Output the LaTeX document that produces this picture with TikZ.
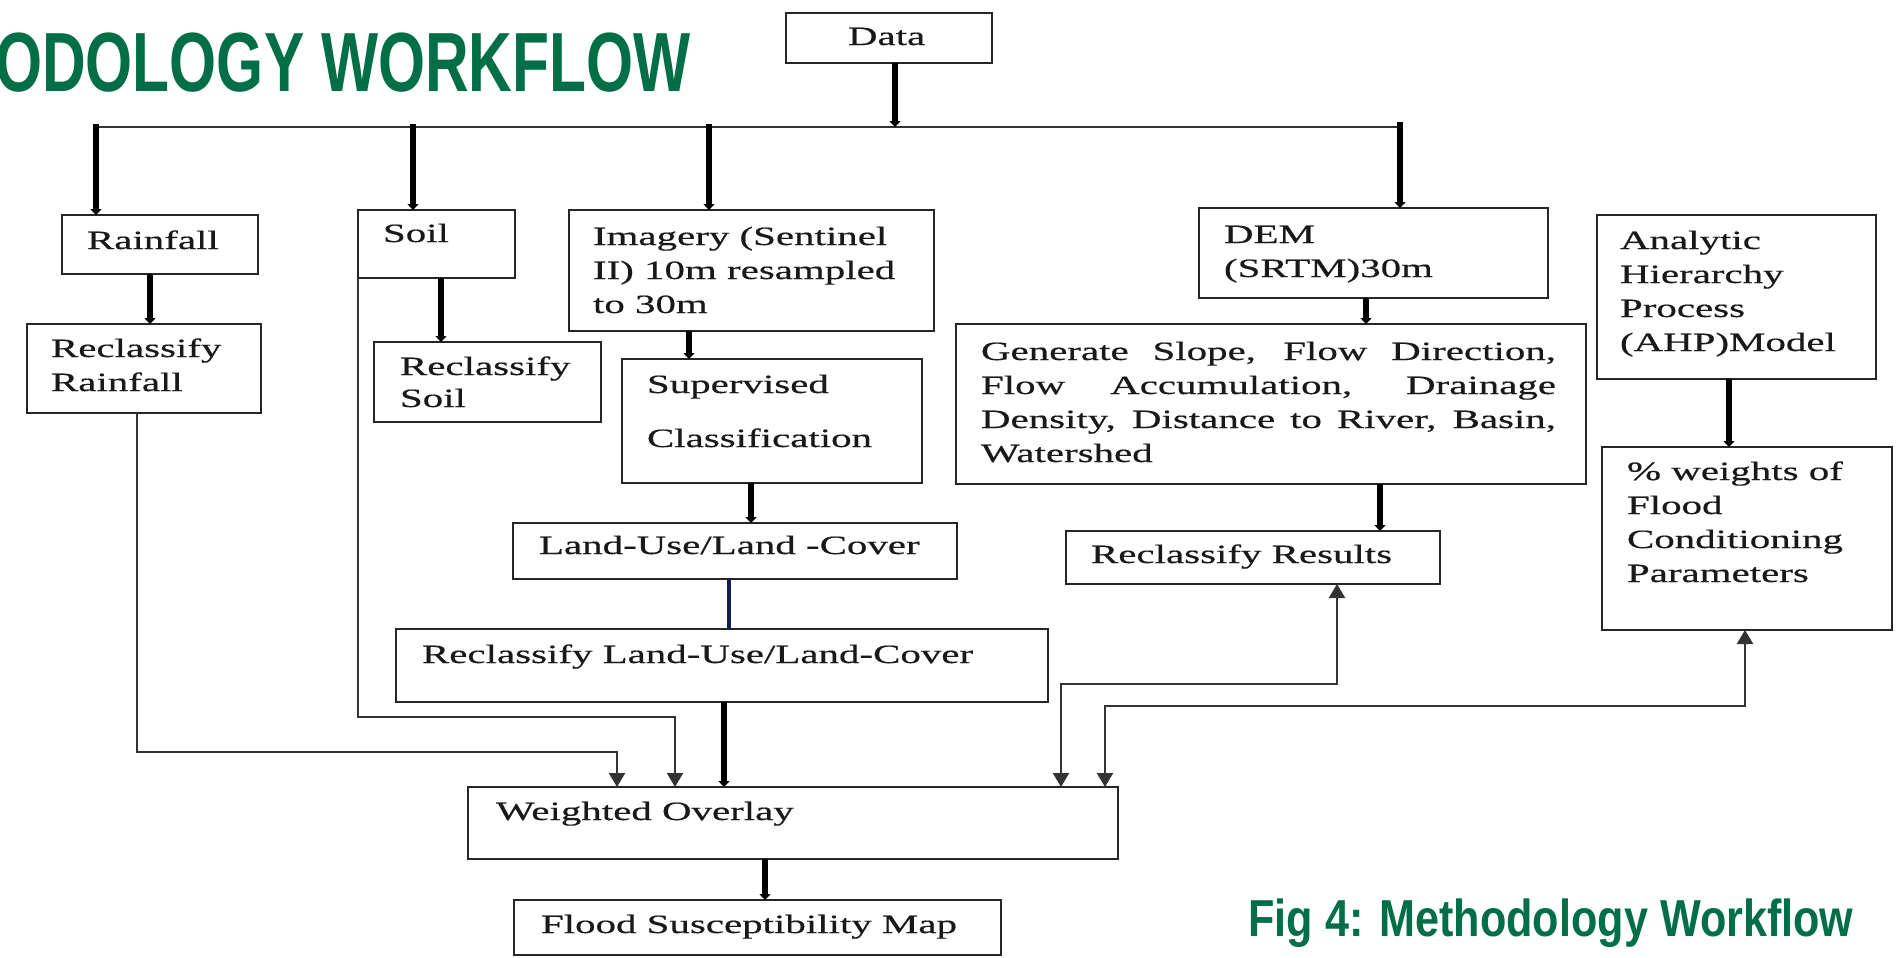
\documentclass[tikz,border=0pt]{standalone}
\usepackage{fontspec}
\setmainfont{Liberation Serif}
\newfontfamily\bodyfont[FakeStretch=1.55,FakeBold=0.5]{Liberation Serif}
\newfontfamily\titlefont[FakeStretch=0.72]{Liberation Sans Bold}
\newfontfamily\capfont[FakeStretch=0.83]{Liberation Sans Bold}
\usetikzlibrary{arrows.meta,fit}
\definecolor{figgreen}{RGB}{0,110,70}
\definecolor{navyline}{RGB}{20,30,80}
\tikzset{
  box/.style={draw=black!85, line width=1.3pt, inner sep=0pt, outer sep=0pt},
  txt/.style={inner sep=0pt, outer sep=0pt, anchor=base west, text=black!90, font=\bodyfont\fontsize{13.2}{17}\selectfont},
  thk/.style={draw=black, line width=3pt, -{Triangle[width=5.5pt,length=3pt]}},
  bus/.style={draw=black!80, line width=1.3pt},
  thn/.style={draw=black!80, line width=1.1pt, -{Triangle[width=8pt,length=7pt]}},
  thn2/.style={draw=black!80, line width=1.1pt, {Triangle[width=8pt,length=7pt]}-{Triangle[width=8pt,length=7pt]}},
  navy/.style={draw=navyline, line width=1.8pt},
}
\begin{document}
\begin{tikzpicture}[x=0.5pt,y=-0.5pt]
\useasboundingbox (0,0) rectangle (1896,958);
\clip (0,0) rectangle (1896,958);
\fill[white] (0,0) rectangle (1896,958);

% titles
\node[anchor=base east, text=figgreen, inner sep=0pt, font=\titlefont\fontsize{42}{42}\selectfont] (title) at (691,91) {ODOLOGY WORKFLOW};
\node[anchor=base west, text=figgreen, inner sep=0pt, font=\capfont\fontsize{26}{26}\selectfont] (caption) at (1248,936) {Fig 4: Methodology Workflow};

% boxes
\node[box, fit={(786,13) (992,63)}] (data) {};
\node[txt] (data-t) at (848,45) {Data};

\node[box, fit={(62,215) (258,274)}] (rain) {};
\node[txt] (rain-t) at (87,249) {Rainfall};

\node[box, fit={(27,324) (261,413)}] (recrain) {};
\node[txt] (recrain-t) at (51,357) {\begin{tabular}[t]{@{}l@{}}Reclassify\\Rainfall\end{tabular}};

\node[box, fit={(358,210) (515,278)}] (soil) {};
\node[txt] (soil-t) at (383,242) {Soil};

\node[box, fit={(374,342) (601,422)}] (recsoil) {};
\node[txt] (recsoil-t) at (400,375) {\begin{tabular}[t]{@{}l@{}}Reclassify\\[-1pt]Soil\end{tabular}};

\node[box, fit={(569,210) (934,331)}] (img) {};
\node[txt] (img-t) at (593,245) {\begin{tabular}[t]{@{}l@{}}Imagery (Sentinel\\II) 10m resampled\\to 30m\end{tabular}};

\node[box, fit={(622,359) (922,483)}] (sup) {};
\node[txt] (sup-t) at (647,393) {\begin{tabular}[t]{@{}l@{}}Supervised\\[10pt]Classification\end{tabular}};

\node[box, fit={(513,523) (957,579)}] (lulc) {};
\node[txt] (lulc-t) at (539,554) {Land-Use/Land -Cover};

\node[box, fit={(396,629) (1048,702)}] (reclulc) {};
\node[txt] (reclulc-t) at (422,663) {Reclassify Land-Use/Land-Cover};

\node[box, fit={(1199,208) (1548,298)}] (dem) {};
\node[txt] (dem-t) at (1224,243) {\begin{tabular}[t]{@{}l@{}}DEM\\(SRTM)30m\end{tabular}};

\node[box, fit={(956,324) (1586,484)}] (gen) {};
\node[txt] (gen-t) at (981,360) {\parbox[t]{287.5pt}{Generate Slope, Flow Direction,\linebreak Flow Accumulation, Drainage\linebreak Density, Distance to River, Basin,\linebreak Watershed}};

\node[box, fit={(1066,531) (1440,584)}] (rr) {};
\node[txt] (rr-t) at (1091,563) {Reclassify Results};

\node[box, fit={(1597,215) (1876,379)}] (ahp) {};
\node[txt] (ahp-t) at (1620,249) {\begin{tabular}[t]{@{}l@{}}Analytic\\Hierarchy\\Process\\(AHP)Model\end{tabular}};

\node[box, fit={(1602,447) (1892,630)}] (wts) {};
\node[txt] (wts-t) at (1627,480) {\begin{tabular}[t]{@{}l@{}}\% weights of\\Flood\\Conditioning\\Parameters\end{tabular}};

\node[box, fit={(468,787) (1118,859)}] (wo) {};
\node[txt] (wo-t) at (496,820) {Weighted Overlay};

\node[box, fit={(514,900) (1001,955)}] (flood) {};
\node[txt] (flood-t) at (541,933) {Flood Susceptibility Map};

% helper coordinates
\coordinate (bD) at (895,127);
\coordinate (b1) at (96,127);
\coordinate (b2) at (413,127);
\coordinate (b3) at (709,127);
\coordinate (b4) at (1400,127);
\coordinate (c1) at (150,0);
\coordinate (c2) at (441,0);
\coordinate (c3) at (689,0);
\coordinate (c4) at (751,0);
\coordinate (c5) at (729,0);
\coordinate (c6) at (724,0);
\coordinate (c7) at (1366,0);
\coordinate (c8) at (1380,0);
\coordinate (c9) at (1729,0);
\coordinate (c10) at (765,0);
\coordinate (c11) at (137,0);
\coordinate (k1) at (617,752);
\coordinate (k2) at (675,717);
\coordinate (k3) at (1061,684);
\coordinate (k3b) at (1337,684);
\coordinate (k4) at (1105,706);
\coordinate (k4b) at (1745,706);

% bus
\draw[bus] (b1) -- (b4);
\draw[thk] (data.south -| bD) -- (bD);
\draw[thk] ([yshift=1.5pt]b1) -- (b1 |- rain.north);
\draw[thk] ([yshift=1.5pt]b2) -- (b2 |- soil.north);
\draw[thk] ([yshift=1.5pt]b3) -- (b3 |- img.north);
\draw[thk] ([yshift=2.5pt]b4) -- (b4 |- dem.north);

% vertical thick arrows
\draw[thk] (rain.south -| c1) -- (recrain.north -| c1);
\draw[thk] (soil.south -| c2) -- (recsoil.north -| c2);
\draw[thk] (img.south -| c3) -- (sup.north -| c3);
\draw[thk] (sup.south -| c4) -- (lulc.north -| c4);
\draw[navy] (lulc.south -| c5) -- (reclulc.north -| c5);
\draw[thk] (reclulc.south -| c6) -- (wo.north -| c6);
\draw[thk] (dem.south -| c7) -- (gen.north -| c7);
\draw[thk] (gen.south -| c8) -- (rr.north -| c8);
\draw[thk] (ahp.south -| c9) -- (wts.north -| c9);
\draw[thk] (wo.south -| c10) -- (flood.north -| c10);

% thin connectors into weighted overlay
\draw[thn] (recrain.south -| c11) |- (k1) -- (wo.north -| k1);
\draw[thn] (soil.south west) |- (k2) -- (wo.north -| k2);
\draw[thn2] (wo.north -| k3) -- (k3) -- (k3b) -- (rr.south -| k3b);
\draw[thn2] (wo.north -| k4) -- (k4) -- (k4b) -- (wts.south -| k4b);
\end{tikzpicture}
\end{document}
